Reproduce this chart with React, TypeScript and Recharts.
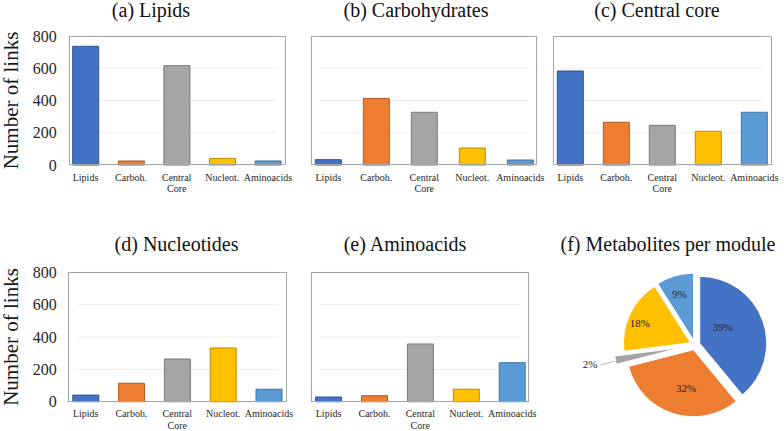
import React from "react";
import { BarChart, Bar, XAxis, YAxis, CartesianGrid, Cell, PieChart, Pie } from "recharts";

const categories = ["Lipids", "Carboh.", "Central Core", "Nucleot.", "Aminoacids"];
const lipidsLinks = [736, 25, 616, 41, 25];
const carbohydratesLinks = [33, 413, 327, 105, 31];
const centralCoreLinks = [583, 265, 246, 209, 327];
const nucleotidesLinks = [41, 114, 264, 332, 77];
const aminoacidsLinks = [29, 37, 357, 77, 241];
const metaboliteShares = [39, 32, 2, 18, 9];
const yTicks = [0, 200, 400, 600, 800];

const fills = ["#4472C4", "#ED7D31", "#A5A5A5", "#FFC000", "#5B9BD5"];
const strokes = ["#2F528F", "#AE5A21", "#787878", "#BC8C00", "#41719C"];
const SERIF = '"Liberation Serif", "Times New Roman", serif';
const TEXT = "#262626";

// page-coordinate layout of each bar panel
const panels = [
  { title: "(a) Lipids", values: lipidsLinks, titleX: 151, titleY: 17, left: 0, top: 0, width: 300, plotLeft: 62.7, plotRight: 290.7, plotTop: 36, plotBottom: 165, frameLeft: 69, frameRight: 286, yAxis: true },
  { title: "(b) Carbohydrates", values: carbohydratesLinks, titleX: 416, titleY: 17, left: 300, top: 0, width: 250, plotLeft: 304.3, plotRight: 544.3, plotTop: 36, plotBottom: 165, frameLeft: 311, frameRight: 537, yAxis: false },
  { title: "(c) Central core", values: centralCoreLinks, titleX: 657, titleY: 17, left: 540, top: 0, width: 244, plotLeft: 547.3, plotRight: 777.3, plotTop: 36, plotBottom: 165, frameLeft: 553, frameRight: 772, yAxis: false },
  { title: "(d) Nucleotides", values: nucleotidesLinks, titleX: 176.5, titleY: 251, left: 0, top: 231, width: 300, plotLeft: 62.8, plotRight: 291.8, plotTop: 272.3, plotBottom: 401.7, frameLeft: 68, frameRight: 287, yAxis: true },
  { title: "(e) Aminoacids", values: aminoacidsLinks, titleX: 405, titleY: 251, left: 300, top: 231, width: 250, plotLeft: 305.6, plotRight: 535.1, plotTop: 272.3, plotBottom: 401.7, frameLeft: 311, frameRight: 529, yAxis: false },
];
const CHART_H = 200;
const XAXIS_H = 20;

function CategoryTick(props: any) {
  const { x, y, payload } = props;
  const words = String(payload.value).split(" ");
  return (
    <text x={x} y={y + 15.5} textAnchor="middle" fill={TEXT} fontSize={10} fontFamily={SERIF}>
      {words.map((w, i) => (
        <tspan key={i} x={x} dy={i === 0 ? 0 : 11.5}>
          {w}
        </tspan>
      ))}
    </text>
  );
}

function LinksPanel({ p }: { p: (typeof panels)[number] }) {
  const data = categories.map((name, i) => ({ name, value: p.values[i] }));
  const margin = {
    top: p.plotTop - p.top,
    bottom: p.top + CHART_H - p.plotBottom - XAXIS_H,
    left: p.yAxis ? 0 : p.plotLeft - p.left,
    right: p.left + p.width - p.plotRight,
  };
  return (
    <div style={{ position: "absolute", left: p.left, top: p.top }}>
      <BarChart width={p.width} height={CHART_H} data={data} margin={margin}>
        <CartesianGrid
          vertical={false}
          stroke="#EDEDED"
          x={p.frameLeft + 9 - p.left}
          width={p.frameRight - p.frameLeft - 18}
        />
        <XAxis
          dataKey="name"
          axisLine={false}
          tickLine={false}
          tickSize={0}
          tickMargin={0}
          height={XAXIS_H}
          interval={0}
          tick={<CategoryTick />}
        />
        {p.yAxis ? (
          <YAxis
            width={p.plotLeft - p.left}
            domain={[0, 800]}
            ticks={yTicks}
            axisLine={false}
            tickLine={false}
            tickSize={0}
            tickMargin={6}
            tick={{ fontSize: 16, fill: TEXT, fontFamily: SERIF }}
            label={{
              value: "Number of links",
              angle: -90,
              position: "insideLeft",
              offset: 10.5,
              style: { textAnchor: "middle", fontSize: 21, fontFamily: SERIF, fill: "#1a1a1a" },
            }}
          />
        ) : (
          <YAxis hide domain={[0, 800]} ticks={yTicks} />
        )}
        <Bar dataKey="value" barSize={26} isAnimationActive={false}>
          {data.map((d, i) => (
            <Cell key={d.name} fill={fills[i]} stroke={strokes[i]} strokeWidth={1} />
          ))}
        </Bar>
      </BarChart>
      <div
        style={{
          position: "absolute",
          left: p.frameLeft - p.left,
          top: p.plotTop - p.top,
          width: p.frameRight - p.frameLeft,
          height: p.plotBottom - p.plotTop,
          border: "1px solid #A6A6A6",
          boxSizing: "border-box",
          pointerEvents: "none",
        }}
      />
    </div>
  );
}

// pie styling
const PIE_LEFT = 530;
const PIE_TOP = 231;
const PIE_CX = 165;
const PIE_CY = 114;
const PIE_R = 67;
const explode = [5, 5, 14, 5, 5];
const labelRadius = [0.42, 0.58, 1, 0.81, 0.72];
const labelNudge = [-16, -7, 0, -4, -1];
const RAD = Math.PI / 180;

function MetabolitePie() {
  const pieData = categories.map((name, i) => ({ name, value: metaboliteShares[i] }));
  const total = metaboliteShares.reduce((a, b) => a + b, 0);
  let cum = 0;
  const mids = metaboliteShares.map((v) => {
    const m = 90 - (360 * (cum + v / 2)) / total;
    cum += v;
    return m;
  });

  const renderLabel = (props: any, k: number) => {
    if (props.index !== k) return null;
    const { cx, cy, midAngle, outerRadius, value } = props;
    if (k === 2) {
      const tx = cx + outerRadius * Math.cos(-midAngle * RAD);
      const ty = cy + outerRadius * Math.sin(-midAngle * RAD);
      return (
        <g>
          <polyline points={`${tx - 15},${ty + 5} ${tx - 1},${ty + 1}`} stroke="#A6A6A6" strokeWidth={0.8} fill="none" />
          <text x={tx - 18} y={ty + 8} textAnchor="end" fontSize={11} fontFamily={SERIF} fill={TEXT}>
            {`${value}%`}
          </text>
        </g>
      );
    }
    const a = midAngle - labelNudge[k];
    const r = outerRadius * labelRadius[k];
    return (
      <text
        x={cx + r * Math.cos(-a * RAD)}
        y={cy + r * Math.sin(-a * RAD)}
        textAnchor="middle"
        dominantBaseline="central"
        fontSize={11}
        fontFamily={SERIF}
        fill={TEXT}
      >
        {`${value}%`}
      </text>
    );
  };

  return (
    <div style={{ position: "absolute", left: PIE_LEFT, top: PIE_TOP }}>
      <PieChart width={254} height={CHART_H} margin={{ top: 0, right: 0, bottom: 0, left: 0 }}>
        {pieData.map((_, k) => (
          <Pie
            key={k}
            data={pieData}
            dataKey="value"
            nameKey="name"
            cx={PIE_CX + explode[k] * Math.cos(mids[k] * RAD)}
            cy={PIE_CY - explode[k] * Math.sin(mids[k] * RAD)}
            outerRadius={PIE_R}
            startAngle={90}
            endAngle={-270}
            labelLine={false}
            label={(props: any) => renderLabel(props, k)}
            isAnimationActive={false}
          >
            {pieData.map((d, i) => (
              <Cell
                key={d.name}
                fill={i === k ? fills[i] : "none"}
                stroke={i === k ? "#ffffff" : "none"}
                strokeWidth={1}
              />
            ))}
          </Pie>
        ))}
      </PieChart>
    </div>
  );
}

export default function App() {
  return (
    <div
      style={{
        position: "absolute",
        left: 0,
        top: 0,
        width: 784,
        height: 431,
        background: "#ffffff",
        overflow: "hidden",
        fontFamily: SERIF,
      }}
    >
      {panels.map((p) => (
        <LinksPanel key={p.title} p={p} />
      ))}
      <MetabolitePie />
      <svg width={784} height={431} style={{ position: "absolute", left: 0, top: 0, pointerEvents: "none" }}>
        {panels.map((p) => (
          <text key={p.title} x={p.titleX} y={p.titleY} textAnchor="middle" fontSize={20} fontFamily={SERIF} fill="#111">
            {p.title}
          </text>
        ))}
        <text x={668} y={251} textAnchor="middle" fontSize={20} fontFamily={SERIF} fill="#111">
          (f) Metabolites per module
        </text>
      </svg>
    </div>
  );
}
